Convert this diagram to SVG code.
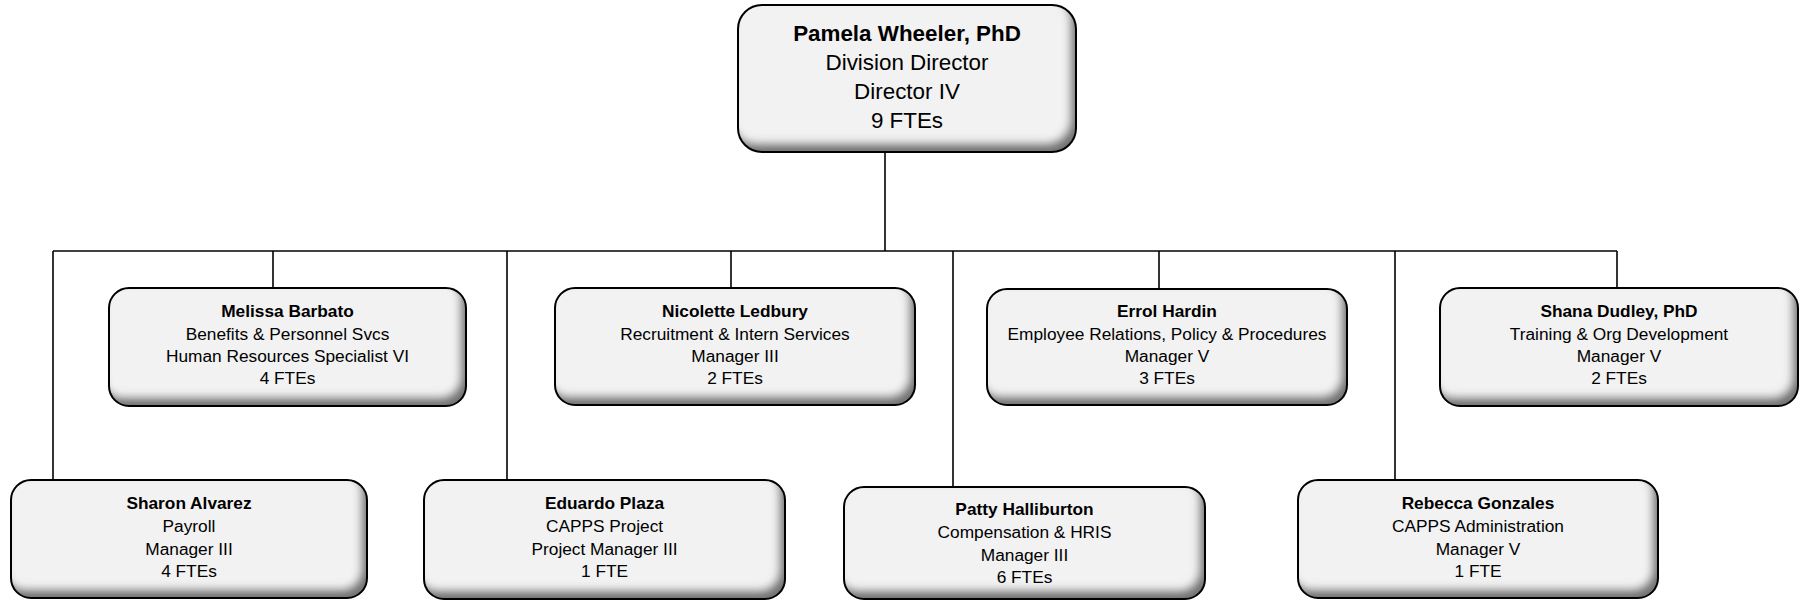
<svg xmlns="http://www.w3.org/2000/svg" width="1800" height="601" viewBox="0 0 1800 601">
<style>
.bg{fill:#f2f2f2;filter:url(#inset)}
.bd{fill:none;stroke:#000;stroke-width:2}
.t{font-family:"Liberation Sans",Arial,sans-serif;font-size:17.3px;fill:#000;text-anchor:middle}
.tb{font-weight:bold}
.big{font-size:22.4px}
.c{stroke:#000;stroke-width:1.6;fill:none}
</style>
<defs>
<filter id="inset" x="-5%" y="-5%" width="110%" height="110%">
<feOffset in="SourceAlpha" dx="-6" dy="-9" result="off"/>
<feGaussianBlur in="off" stdDeviation="4" result="blur"/>
<feComposite operator="out" in="SourceAlpha" in2="blur" result="edge"/>
<feFlood flood-color="#3a3a3a" flood-opacity="0.85"/>
<feComposite operator="in" in2="edge" result="shade"/>
<feComposite operator="over" in="shade" in2="SourceGraphic"/>
</filter>
</defs>
<rect width="1800" height="601" fill="#fff"/>
<g id="connectors">
<line class="c" x1="885" y1="152" x2="885" y2="251"/>
<line class="c" x1="53" y1="251" x2="1617" y2="251" stroke-width="2"/>
<line class="c" x1="53" y1="251" x2="53" y2="480"/>
<line class="c" x1="273" y1="251" x2="273" y2="288"/>
<line class="c" x1="507" y1="251" x2="507" y2="480"/>
<line class="c" x1="731" y1="251" x2="731" y2="288"/>
<line class="c" x1="953" y1="251" x2="953" y2="487"/>
<line class="c" x1="1159" y1="251" x2="1159" y2="289"/>
<line class="c" x1="1395" y1="251" x2="1395" y2="480"/>
<line class="c" x1="1617" y1="251" x2="1617" y2="288"/>
</g>
<g id="n-wheeler">
<rect class="bg" x="738" y="5" width="338" height="147" rx="24"/>
<rect class="bd" x="738" y="5" width="338" height="147" rx="24"/>
<text class="t big tb" x="907" y="41">Pamela Wheeler, PhD</text>
<text class="t big" x="907" y="70">Division Director</text>
<text class="t big" x="907" y="99">Director IV</text>
<text class="t big" x="907" y="128">9 FTEs</text>
</g>
<g id="n-barbato">
<rect class="bg" x="109" y="288" width="357" height="118" rx="20"/>
<rect class="bd" x="109" y="288" width="357" height="118" rx="20"/>
<text class="t tb" x="287.5" y="317">Melissa Barbato</text>
<text class="t" x="287.5" y="340">Benefits &amp; Personnel Svcs</text>
<text class="t" x="287.5" y="362">Human Resources Specialist VI</text>
<text class="t" x="287.5" y="384">4 FTEs</text>
</g>
<g id="n-ledbury">
<rect class="bg" x="555" y="288" width="360" height="117" rx="20"/>
<rect class="bd" x="555" y="288" width="360" height="117" rx="20"/>
<text class="t tb" x="735" y="317">Nicolette Ledbury</text>
<text class="t" x="735" y="340">Recruitment &amp; Intern Services</text>
<text class="t" x="735" y="362">Manager III</text>
<text class="t" x="735" y="384">2 FTEs</text>
</g>
<g id="n-hardin">
<rect class="bg" x="987" y="289" width="360" height="116" rx="20"/>
<rect class="bd" x="987" y="289" width="360" height="116" rx="20"/>
<text class="t tb" x="1167" y="317">Errol Hardin</text>
<text class="t" x="1167" y="340">Employee Relations, Policy &amp; Procedures</text>
<text class="t" x="1167" y="362">Manager V</text>
<text class="t" x="1167" y="384">3 FTEs</text>
</g>
<g id="n-dudley">
<rect class="bg" x="1440" y="288" width="358" height="118" rx="20"/>
<rect class="bd" x="1440" y="288" width="358" height="118" rx="20"/>
<text class="t tb" x="1619" y="317">Shana Dudley, PhD</text>
<text class="t" x="1619" y="340">Training &amp; Org Development</text>
<text class="t" x="1619" y="362">Manager V</text>
<text class="t" x="1619" y="384">2 FTEs</text>
</g>
<g id="n-alvarez">
<rect class="bg" x="11" y="480" width="356" height="118" rx="20"/>
<rect class="bd" x="11" y="480" width="356" height="118" rx="20"/>
<text class="t tb" x="189" y="509">Sharon Alvarez</text>
<text class="t" x="189" y="532">Payroll</text>
<text class="t" x="189" y="555">Manager III</text>
<text class="t" x="189" y="577">4 FTEs</text>
</g>
<g id="n-plaza">
<rect class="bg" x="424" y="480" width="361" height="119" rx="20"/>
<rect class="bd" x="424" y="480" width="361" height="119" rx="20"/>
<text class="t tb" x="604.5" y="509">Eduardo Plaza</text>
<text class="t" x="604.5" y="532">CAPPS Project</text>
<text class="t" x="604.5" y="555">Project Manager III</text>
<text class="t" x="604.5" y="577">1 FTE</text>
</g>
<g id="n-halliburton">
<rect class="bg" x="844" y="487" width="361" height="112" rx="20"/>
<rect class="bd" x="844" y="487" width="361" height="112" rx="20"/>
<text class="t tb" x="1024.5" y="515">Patty Halliburton</text>
<text class="t" x="1024.5" y="538">Compensation &amp; HRIS</text>
<text class="t" x="1024.5" y="561">Manager III</text>
<text class="t" x="1024.5" y="583">6 FTEs</text>
</g>
<g id="n-gonzales">
<rect class="bg" x="1298" y="480" width="360" height="118" rx="20"/>
<rect class="bd" x="1298" y="480" width="360" height="118" rx="20"/>
<text class="t tb" x="1478" y="509">Rebecca Gonzales</text>
<text class="t" x="1478" y="532">CAPPS Administration</text>
<text class="t" x="1478" y="555">Manager V</text>
<text class="t" x="1478" y="577">1 FTE</text>
</g>
</svg>
